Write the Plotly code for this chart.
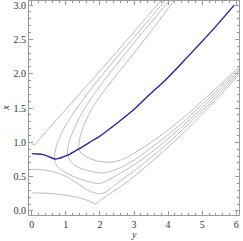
import plotly.graph_objects as go

# Blue curve (vertical "x" vs horizontal "y")
blue_y = [0, 0.15, 0.33, 0.5, 0.67, 0.8, 0.92, 1.11, 1.4, 1.8, 2.0, 2.48, 2.97, 3.45, 3.94, 4.43, 4.92, 5.40, 5.94]
blue_x = [0.835, 0.83, 0.82, 0.79, 0.757, 0.765, 0.786, 0.825, 0.908, 1.03, 1.09, 1.27, 1.466, 1.694, 1.917, 2.17, 2.43, 2.69, 3.0]

# Gray curves, split at sharp corners
g1a_y = [0, 0.5, 1.0, 1.4, 1.7, 1.87]
g1a_x = [0.262, 0.255, 0.228, 0.19, 0.14, 0.097]
g1b_y = [1.87, 2.2, 2.6, 3.0, 3.5, 4.0, 4.5, 5.0, 5.5, 6.08]
g1b_x = [0.097, 0.22, 0.35, 0.5, 0.71, 0.93, 1.16, 1.41, 1.67, 1.98]

g2_y = [0, 0.5, 1.0, 1.4, 1.7, 1.95, 2.15, 2.4, 2.6, 3.0, 3.5, 4.0, 4.5, 5.0, 5.5, 6.08]
g2_x = [0.607, 0.585, 0.505, 0.38, 0.29, 0.25, 0.27, 0.36, 0.44, 0.58, 0.78, 0.99, 1.22, 1.46, 1.71, 2.01]

ka_y = [0, 0.09]
ka_x = [0.98, 0.96]
kb_y = [0.09, 0.5, 1.0, 1.5, 2.0, 2.5, 3.0, 3.5, 3.8]
kb_x = [0.96, 1.2, 1.48, 1.76, 2.04, 2.32, 2.61, 2.90, 3.07]

b_y = [3.92, 3.5, 3.0, 2.5, 2.0, 1.5, 1.0, 0.8, 0.7, 0.67, 0.72, 0.85, 1.1, 1.5, 2.0, 2.6, 3.0, 3.5, 4.0, 4.5, 5.0, 5.5, 6.08]
b_x = [3.07, 2.82, 2.53, 2.24, 1.94, 1.62, 1.25, 1.05, 0.9, 0.77, 0.67, 0.6, 0.53, 0.45, 0.40, 0.55, 0.67, 0.85, 1.05, 1.27, 1.5, 1.75, 2.04]

c_y = [4.05, 3.5, 3.0, 2.5, 2.0, 1.5, 1.2, 1.08, 1.05, 1.15, 1.35, 1.7, 2.1, 2.6, 3.0, 3.5, 4.0, 4.5, 5.0, 5.5, 6.08]
c_x = [3.07, 2.75, 2.45, 2.14, 1.82, 1.45, 1.15, 0.98, 0.83, 0.72, 0.64, 0.58, 0.553, 0.63, 0.74, 0.92, 1.11, 1.32, 1.55, 1.79, 2.07]

d_y = [4.18, 3.5, 3.0, 2.6, 2.2, 1.8, 1.55, 1.42, 1.38, 1.42, 1.6, 1.9, 2.28, 2.6, 3.0, 3.5, 4.0, 4.5, 5.0, 5.5, 6.08]
d_x = [3.07, 2.62, 2.3, 2.05, 1.8, 1.52, 1.27, 1.08, 0.93, 0.86, 0.79, 0.73, 0.71, 0.74, 0.84, 1.0, 1.18, 1.38, 1.6, 1.83, 2.10]

x_ticks = [0, 1, 2, 3, 4, 5, 6]
y_ticks = [0.0, 0.5, 1.0, 1.5, 2.0, 2.5, 3.0]

FONT = "Liberation Serif, Times New Roman, serif"
GRAY = "#bcbcbc"
FRAME = "#9a9a9a"
fig = go.Figure()
for xs, ys in [(g1a_y, g1a_x), (g1b_y, g1b_x), (g2_y, g2_x), (ka_y, ka_x), (kb_y, kb_x),
               (b_y, b_x), (c_y, c_x), (d_y, d_x)]:
    fig.add_trace(go.Scatter(x=xs, y=ys, mode="lines",
                             line=dict(color=GRAY, width=1, shape="spline", smoothing=0.8),
                             hoverinfo="skip", showlegend=False))
fig.add_trace(go.Scatter(x=blue_y, y=blue_x, mode="lines",
                         line=dict(color="#2424a6", width=1.4, shape="spline", smoothing=0.8),
                         showlegend=False))

axis_common = dict(showline=True, linecolor=FRAME, linewidth=1, mirror="allticks",
                   ticks="inside", ticklen=4, tickcolor=FRAME, showgrid=False, zeroline=False,
                   automargin=False, ticklabeloverflow="allow",
                   tickfont=dict(family=FONT, size=10, color="#333"))
fig.update_xaxes(range=[-0.08, 6.08], tickvals=x_ticks, ticktext=[str(v) for v in x_ticks],
                 minor=dict(dtick=0.2, tick0=0, ticks="inside", ticklen=2, tickcolor=FRAME),
                 **axis_common)
fig.update_yaxes(range=[-0.06, 3.06], tickvals=y_ticks, ticktext=[f"{v:.1f}" for v in y_ticks],
                 minor=dict(dtick=0.1, tick0=0, ticks="inside", ticklen=2, tickcolor=FRAME),
                 **axis_common)
fig.add_annotation(text="<i>y</i>", xref="paper", yref="paper", x=0.5, y=-0.09, yanchor="middle",
                   showarrow=False, font=dict(family=FONT, size=10, color="#333"))
fig.add_annotation(text="<i>x</i>", xref="paper", yref="paper", x=-0.115, y=0.5, xanchor="center",
                   textangle=-90, showarrow=False, font=dict(family=FONT, size=10, color="#333"))
fig.update_layout(width=243, height=241, margin=dict(l=29, r=4, t=1, b=26),
                  plot_bgcolor="white", paper_bgcolor="white")
fig.write_html("out.html", config={"displayModeBar": False, "responsive": False},
               post_script="document.body.style.margin='0';")
